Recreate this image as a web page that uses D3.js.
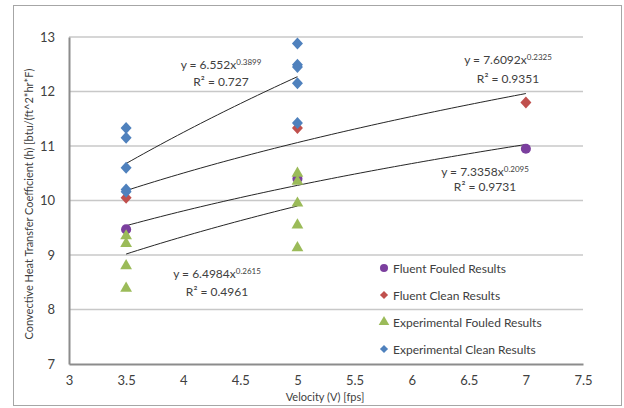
<!DOCTYPE html>
<html>
<head>
<meta charset="utf-8">
<script src="https://cdn.jsdelivr.net/npm/d3@7"></script>
<style>
  body { margin: 0; background: #fff; }
  text { font-family: Lato, "Open Sans", sans-serif; fill: #404040; }
</style>
</head>
<body>
<svg width="624" height="408"></svg>
<script>
// data
const xTicks = [3, 3.5, 4, 4.5, 5, 5.5, 6, 6.5, 7, 7.5];
const yTicks = [7, 8, 9, 10, 11, 12, 13];

const seriesNames = ["Fluent Fouled Results", "Fluent Clean Results",
  "Experimental Fouled Results", "Experimental Clean Results"];
const seriesColors = ["#7b3f9e", "#c0504d", "#9bbb59", "#4f81bd"];
const seriesShapes = ["circle", "diamond", "triangle", "diamond"];

const fluentFouled = [[3.5, 9.47], [5, 10.4], [7, 10.95]];
const fluentClean = [[3.5, 10.05], [5, 11.33], [7, 11.8]];
const expFouled = [[3.5, 9.35], [3.5, 9.21], [3.5, 8.8], [3.5, 8.39],
  [5, 10.5], [5, 10.35], [5, 9.95], [5, 9.55], [5, 9.13]];
const expClean = [[3.5, 11.33], [3.5, 11.15], [3.5, 10.6], [3.5, 10.2], [3.5, 10.16],
  [5, 12.88], [5, 12.49], [5, 12.45], [5, 12.15], [5, 11.42]];

// power trendlines y = a*x^b (from the labels)
const trendA = [7.3358, 7.6092, 6.4984, 6.552];
const trendB = [0.2095, 0.2325, 0.2615, 0.3899];
const trendR2 = ["0.9731", "0.9351", "0.4961", "0.727"];
const trendAText = ["7.3358", "7.6092", "6.4984", "6.552"];
const trendBText = ["0.2095", "0.2325", "0.2615", "0.3899"];
const trendEnd = [7, 7, 5, 5];

const allSeries = [fluentFouled, fluentClean, expFouled, expClean];

let svg = d3.select("svg");

// outer frame
svg.append("rect")
.attr("x", 13.5).attr("y", 5.5)
.attr("width", 608).attr("height", 400)
.attr("fill", "#fff")
.attr("stroke", "#a6a6a6")
.attr("stroke-width", 1);

const x = d3.scaleLinear().domain([3, 7.5]).range([69, 583]);
const y = d3.scaleLinear().domain([7, 13]).range([364, 37]);

// gridlines
svg.append("g")
.selectAll("line")
.data(yTicks.slice(1))
.join("line")
.attr("x1", x(3)).attr("x2", x(7.5))
.attr("y1", d => y(d)).attr("y2", d => y(d))
.attr("stroke", "#c8c8c8")
.attr("stroke-width", 1.5);

// axes
let xAxis = svg.append("g")
.attr("transform", "translate(0," + y(7) + ")")
.call(d3.axisBottom(x).tickValues(xTicks).tickSize(0).tickPadding(12).tickFormat(d3.format("")));
xAxis.select(".domain").attr("stroke", "#8c8c8c").attr("stroke-width", 2);
xAxis.selectAll("text").style("font-size", "13px").attr("fill", "#404040");

let yAxis = svg.append("g")
.attr("transform", "translate(" + x(3) + ",0)")
.call(d3.axisLeft(y).tickValues(yTicks).tickSize(0).tickPadding(14).tickFormat(d3.format("")));
yAxis.select(".domain").attr("stroke", "#8c8c8c").attr("stroke-width", 2);
yAxis.selectAll("text").style("font-size", "13px").attr("fill", "#404040");

// axis titles
svg.append("text")
.attr("x", 325).attr("y", 401)
.attr("text-anchor", "middle")
.style("font-size", "11px")
.text("Velocity (V) [fps]");

svg.append("text")
.attr("transform", "translate(33,204) rotate(-90)")
.attr("text-anchor", "middle")
.style("font-size", "11px")
.text("Convective Heat Transfer Coefficient (h) [btu/(ft^2*hr*F)");

// trendlines
const line = d3.line().x(d => x(d[0])).y(d => y(d[1]));
trendA.forEach((a, i) => {
  const xs = d3.range(3.5, trendEnd[i] + 0.001, 0.05);
  const pts = xs.map(v => [v, a * Math.pow(v, trendB[i])]);
  svg.append("path")
  .attr("d", line(pts))
  .attr("fill", "none")
  .attr("stroke", "#262626")
  .attr("stroke-width", 1);
});

// markers
function marker(shape) {
  if (shape === "circle") return d3.symbol(d3.symbolCircle, 80)();
  if (shape === "triangle") return d3.symbol(d3.symbolTriangle, 60)();
  return "M0,-6L5.5,0L0,6L-5.5,0Z";
}
// series drawn in order, later ones on top
[0, 1, 2, 3].forEach(i => {
  svg.append("g")
  .selectAll("path")
  .data(allSeries[i])
  .join("path")
  .attr("d", marker(seriesShapes[i]))
  .attr("transform", d => "translate(" + x(d[0]) + "," + y(d[1]) + ")")
  .attr("fill", seriesColors[i]);
});

// trendline labels
const labelPos = [[485, 176, 191], [508, 64, 83], [217, 278, 296], [221, 69, 86]];
trendA.forEach((a, i) => {
  const p = labelPos[i];
  let t = svg.append("text")
  .attr("x", p[0]).attr("y", p[1])
  .attr("text-anchor", "middle")
  .style("font-size", "12px");
  t.append("tspan").text("y = " + trendAText[i] + "x");
  t.append("tspan").attr("dy", -4).style("font-size", "8px").text(trendBText[i]);
  svg.append("text")
  .attr("x", p[0]).attr("y", p[2])
  .attr("text-anchor", "middle")
  .style("font-size", "12px")
  .text("R² = " + trendR2[i]);
});

// legend
let legend = svg.append("g");
seriesNames.forEach((name, i) => {
  const ly = 268 + i * 27;
  legend.append("path")
  .attr("d", seriesShapes[i] === "diamond" ? "M0,-4.5L4.5,0L0,4.5L-4.5,0Z" : marker(seriesShapes[i]))
  .attr("transform", "translate(384," + ly + ")" + (seriesShapes[i] === "circle" ? " scale(0.8)" : " scale(0.9)"))
  .attr("fill", seriesColors[i]);
  legend.append("text")
  .attr("x", 393).attr("y", ly + 4.5)
  .style("font-size", "12px")
  .text(name);
});
</script>
</body>
</html>
